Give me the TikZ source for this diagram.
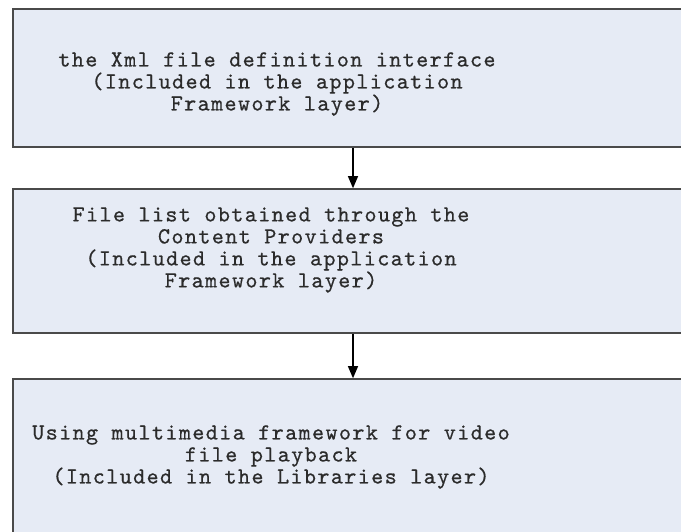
\documentclass[tikz,border=0pt]{standalone}
\usepackage{fontspec}
\newfontfamily\boxfont{lmmono10-regular.otf}[LetterSpace=6,FakeBold=0.6]
\usetikzlibrary{arrows.meta}
\definecolor{boxfill}{HTML}{E6EBF5}
\definecolor{boxline}{HTML}{4A4A4A}
\definecolor{txt}{HTML}{2B2B2B}
\tikzset{
  x=1pt, y=1pt,
  stagebox/.style={draw=boxline, line width=1.6pt, fill=boxfill, rectangle, minimum width=680pt, inner sep=0pt},
  stagetext/.style={align=center, text=txt, font=\boxfont\fontsize{23pt}{22pt}\selectfont, inner sep=0pt},
  flowarrow/.style={draw=black, line width=1.2pt, -{Triangle[width=10pt,length=12pt]}}
}
\begin{document}
\begin{tikzpicture}
\useasboundingbox (0,0) rectangle (681,-531);
\clip (0,0) rectangle (681,-531);
\fill[white] (0,0) rectangle (681,-531);
\node[stagebox, minimum height=138pt] (b1) at (353,-78) {};
\node[stagebox, minimum height=144pt] (b2) at (353,-261) {};
\node[stagebox, minimum height=182pt] (b3) at (353,-470) {};
\node[stagetext] (t1) at (277,-84) {the Xml file definition interface\\(Included in the application\\Framework layer)};
\node[stagetext] (t2) at (271,-250) {File list obtained through the\\Content Providers\\(Included in the application\\Framework layer)};
\node[stagetext] (t3) at (271,-457) {Using multimedia framework for video\\file playback\\(Included in the Libraries layer)};
\draw[flowarrow] (b1.south) -- (b2.north);
\draw[flowarrow] (b2.south) -- (b3.north);
\end{tikzpicture}
\end{document}
